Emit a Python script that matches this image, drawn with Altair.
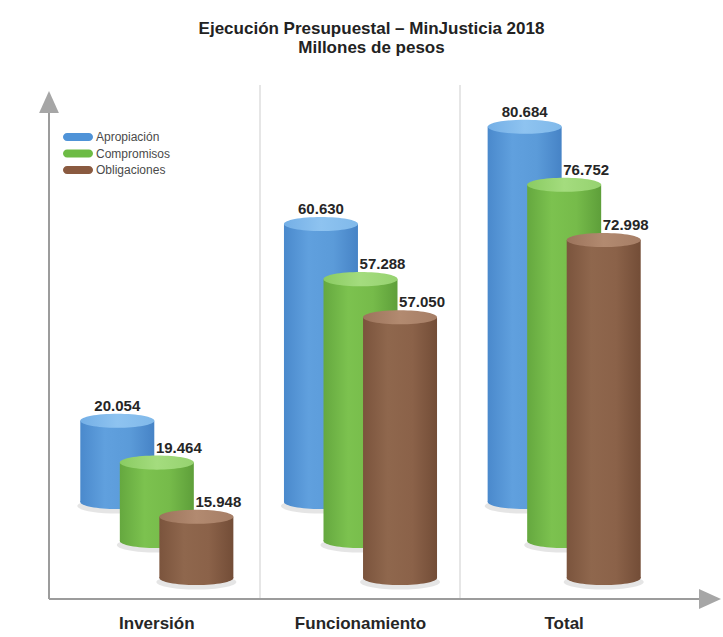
import altair as alt
import pandas as pd

# ---- data -----------------------------------------------------------------
CATEGORIES = ["Inversión", "Funcionamiento", "Total"]
SERIES = ["Apropiación", "Compromisos", "Obligaciones"]
APROPIACION = [20054, 60630, 80684]
COMPROMISOS = [19464, 57288, 76752]
OBLIGACIONES = [15948, 57050, 72998]

TITLE = ["Ejecución Presupuestal – MinJusticia 2018", "Millones de pesos"]

# value axis starts a little above zero (cylinder floor)
BASE = 3300
YMAX = 83000


def fmt(v):
    return f"{v:,}".replace(",", ".")


rows = []
for s, vals in zip(SERIES, [APROPIACION, COMPROMISOS, OBLIGACIONES]):
    for c, v in zip(CATEGORIES, vals):
        rows.append({"category": c, "series": s, "value": v,
                     "label": fmt(v), "base": BASE})
df = pd.DataFrame(rows)

# ---- layout ---------------------------------------------------------------
TOP = 70
W = 723
H = 599 - TOP
FONT = "Liberation Sans"

# group step ~203.5 px, cylinders within a group ~39.5 px apart
XS = alt.Scale(domain=CATEGORIES, range=[55, 666], paddingInner=0.4177, paddingOuter=0.2088)
XO = alt.Scale(domain=SERIES, paddingInner=0, paddingOuter=0)
YS = alt.Scale(domain=[BASE, YMAX], range=[508, 121.45])

XAXIS = alt.Axis(domain=False, ticks=False, grid=False, title=None, labelAngle=0,
                 labelFont=FONT, labelFontWeight="bold", labelFontSize=17,
                 labelColor="#262626", labelPadding=16)

CYL_W = 74
ELLIPSE = "M -1 0 A 1 0.19 0 1 0 1 0 A 1 0.19 0 1 0 -1 0 Z"
PILL = ("M -0.73 -0.27 L 0.73 -0.27 A 0.27 0.27 0 0 1 0.73 0.27 "
        "L -0.73 0.27 A 0.27 0.27 0 0 1 -0.73 -0.27 Z")


def hgrad(colors):
    n = len(colors) - 1
    return alt.Gradient(
        gradient="linear", x1=0, x2=1, y1=0, y2=0,
        stops=[alt.GradientStop(color=c, offset=i / n) for i, c in enumerate(colors)],
    )


STYLE = {
    "Apropiación": dict(body=["#4a89cc", "#60a0de", "#5b9bd9", "#4683c6"],
                        cap=["#74afe6", "#8ec3f0", "#80b9ea"],
                        solid="#4f93d8", shift=-76, dx=0),
    "Compromisos": dict(body=["#65a83f", "#7cc24f", "#76bb4a", "#5e9f3a"],
                        cap=["#8acb62", "#a4dc7e", "#96d270"],
                        solid="#6dbb45", shift=-37, dx=22),
    "Obligaciones": dict(body=["#7b543d", "#8f674d", "#8b6249", "#734d37"],
                         cap=["#9c745c", "#b28a70", "#a67e66"],
                         solid="#8a5a40", shift=0, dx=22),
}


def cylinder(name):
    st = STYLE[name]
    sh = st["shift"]
    base = alt.Chart(df).transform_filter(alt.datum.series == name)
    enc_x = dict(x=alt.X("category:N", scale=XS, axis=XAXIS),
                 xOffset=alt.XOffset("series:N", scale=XO))
    y_val = alt.Y("value:Q", scale=YS, axis=None)
    y_base = alt.Y("base:Q", scale=YS, axis=None)

    # soft drop shadow under the cylinder floor
    shadow = base.mark_point(shape=ELLIPSE, size=(CYL_W + 6) ** 2, filled=True,
                             color="#000000", opacity=0.10, strokeWidth=0,
                             xOffset=4, yOffset=sh + 4).encode(y=y_base, **enc_x)
    bottom = base.mark_point(shape=ELLIPSE, size=CYL_W ** 2, filled=True,
                             fill=hgrad(st["body"]), opacity=1, strokeWidth=0,
                             yOffset=sh).encode(y=y_base, **enc_x)
    body = base.mark_bar(width=CYL_W, fill=hgrad(st["body"]), opacity=1,
                         yOffset=sh, y2Offset=sh).encode(y=y_val, y2="base:Q", **enc_x)
    cap = base.mark_point(shape=ELLIPSE, size=CYL_W ** 2, filled=True,
                          fill=hgrad(st["cap"]), opacity=1, strokeWidth=0,
                          yOffset=sh).encode(y=y_val, **enc_x)
    label = base.mark_text(font=FONT, fontWeight="bold", fontSize=15,
                           color="#262626", baseline="middle", align="center",
                           yOffset=sh - 15, dx=st["dx"]).encode(
        y=y_val, text="label:N", **enc_x)
    return [shadow, bottom, body, cap, label]


# ---- axis arrows and group separators --------------------------------------
AXIS_GREY = "#9c9c9c"
v_axis = alt.Chart().mark_rule(color=AXIS_GREY, strokeWidth=2).encode(
    x=alt.value(49), y=alt.value(40), y2=alt.value(H))
h_axis = alt.Chart().mark_rule(color=AXIS_GREY, strokeWidth=2).encode(
    x=alt.value(49), x2=alt.value(702), y=alt.value(H))
up_arrow = alt.Chart().mark_point(shape="M 0 -1 L 0.9 1 L -0.9 1 Z", size=22 ** 2,
                                  filled=True, color="#a6a6a6", opacity=1).encode(
    x=alt.value(49), y=alt.value(32))
right_arrow = alt.Chart().mark_point(shape="M 1 0 L -1 -0.9 L -1 0.9 Z", size=22 ** 2,
                                     filled=True, color="#a6a6a6", opacity=1).encode(
    x=alt.value(710), y=alt.value(H))
sep1 = alt.Chart().mark_rule(color="#dedede", strokeWidth=1.5).encode(
    x=alt.value(260), y=alt.value(15), y2=alt.value(H))
sep2 = alt.Chart().mark_rule(color="#dedede", strokeWidth=1.5).encode(
    x=alt.value(460), y=alt.value(15), y2=alt.value(H))

# ---- legend ---------------------------------------------------------------
leg = pd.DataFrame({"series": SERIES})
LY = alt.Y("series:N", scale=alt.Scale(type="point", domain=SERIES, range=[67, 100], padding=0),
           axis=None)
swatch = alt.Chart(leg).mark_point(shape=PILL, size=900, filled=True, opacity=1,
                                   strokeWidth=0).encode(
    x=alt.value(78), y=LY,
    fill=alt.Fill("series:N", scale=alt.Scale(domain=SERIES,
                                              range=[STYLE[s]["solid"] for s in SERIES]),
                  legend=None))
leg_text = alt.Chart(leg).mark_text(align="left", baseline="middle", font=FONT,
                                    fontSize=12, color="#4a4a4a").encode(
    x=alt.value(96), y=LY, text="series:N")

layers = [sep1, sep2, v_axis, h_axis, up_arrow, right_arrow]
for s in SERIES:
    layers += cylinder(s)
layers += [swatch, leg_text]

chart = alt.layer(*layers).properties(
    width=W, height=H,
    padding={"left": 0, "top": TOP, "right": 0, "bottom": 637 - 599},
    autosize=alt.AutoSizeParams(type="none"),
    background="white",
    title=alt.TitleParams(text=TITLE, anchor="middle", font=FONT, fontSize=17,
                          fontWeight="bold", color="#222222", lineHeight=19,
                          offset=13, dx=10),
).resolve_scale(y="independent", fill="independent").configure_view(stroke=None)

chart.save("out.html", embed_options={"renderer": "svg", "actions": False})
